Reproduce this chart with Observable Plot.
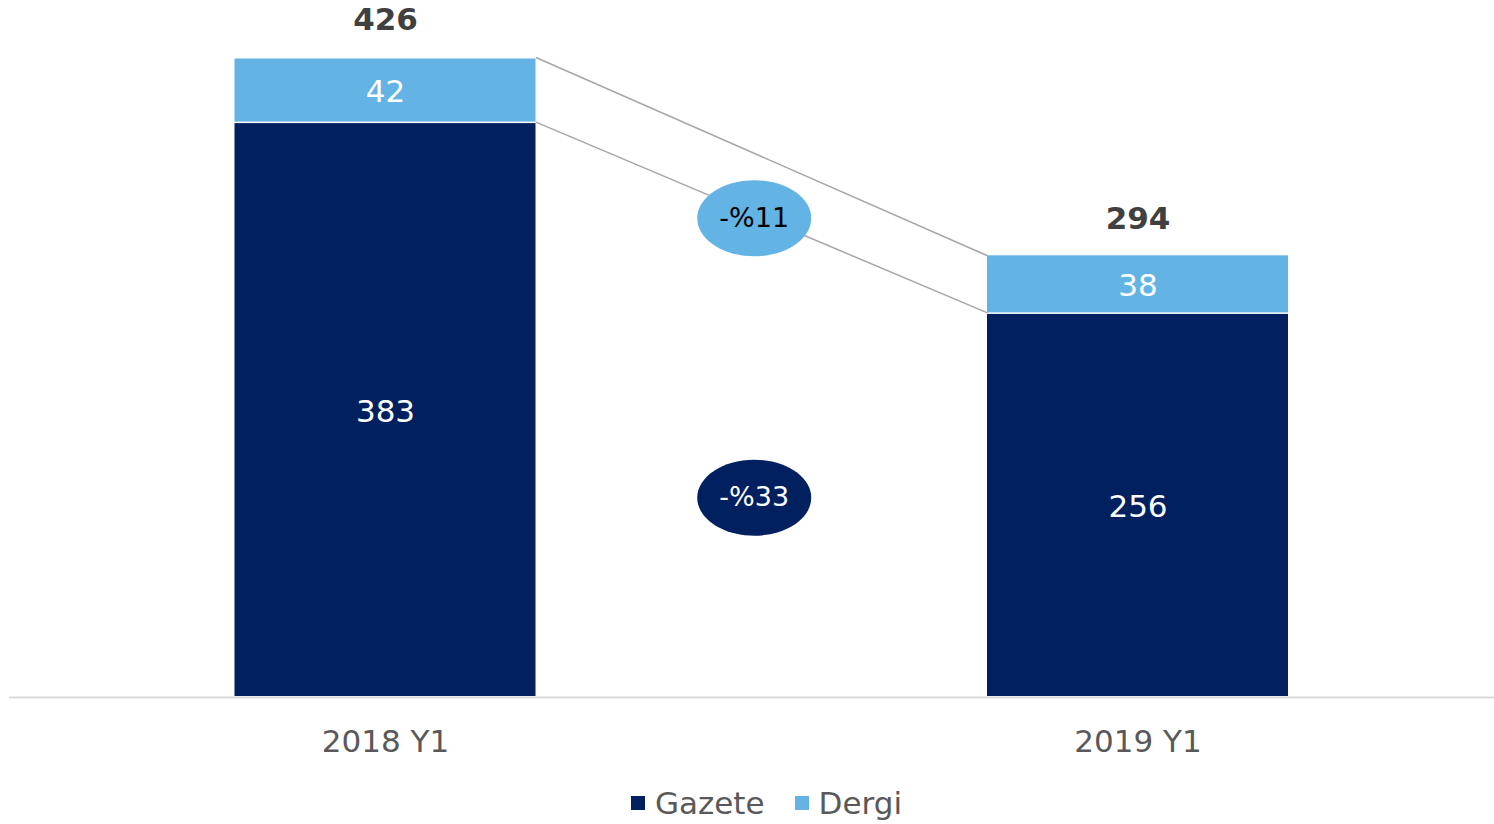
<!DOCTYPE html>
<html>
<head>
<meta charset="utf-8">
<script src="https://cdn.jsdelivr.net/npm/d3@7"></script>
<script src="https://cdn.jsdelivr.net/npm/@observablehq/plot@0.6"></script>
<style>
  html, body { margin: 0; padding: 0; background: #fff; }
  body { width: 1494px; height: 824px; position: relative; overflow: hidden; font-family: "DejaVu Sans", Verdana, sans-serif; }
  #legend { position: absolute; left: 631px; top: 785px; display: flex; align-items: center; font-size: 31px; color: #595959; white-space: nowrap; }
  #legend .sw { display: inline-block; width: 14px; height: 14px; margin-right: 10px; }
  #legend .item { display: flex; align-items: center; margin-right: 30px; }
</style>
</head>
<body>
<div id="chart"></div>
<div id="legend"></div>
<script>
// ---- data ----
const categories = ["2018 Y1", "2019 Y1"];
const seriesNames = ["Gazete", "Dergi"];
const gazete = [383, 256];
const dergi = [42, 38];
const totals = [426, 294];
const changeLabels = ["-%33", "-%11"];         // Gazete, Dergi change
const changeY = [133, 319];                    // annotation vertical placement (value units)
const colors = ["#002060", "#63B4E4"];

// ---- derived table ----
const BAR_HALF = 0.2;
const seriesValues = [gazete, dergi];
const rows = [];
categories.forEach((c, i) => {
  let base = 0;
  seriesNames.forEach((s, k) => {
    const v = seriesValues[k][i];
    rows.push({cat: c, i, series: s, k, value: v, y1: base, y2: base + v});
    base += v;
  });
});
const links = [
  {x1: 0 + BAR_HALF, y1: totals[0], x2: 1 - BAR_HALF, y2: totals[1]},
  {x1: 0 + BAR_HALF, y1: gazete[0], x2: 1 - BAR_HALF, y2: gazete[1]}
];
const bubbles = seriesNames.map((s, k) => ({series: s, k, label: changeLabels[k], x: 0.49, y: changeY[k]}));

const ellipse = {
  draw(ctx, size) {
    const ry = Math.sqrt(size / Math.PI), rx = ry * 1.5, K = 0.5522847498;
    ctx.moveTo(rx, 0);
    ctx.bezierCurveTo(rx, K * ry, K * rx, ry, 0, ry);
    ctx.bezierCurveTo(-K * rx, ry, -rx, K * ry, -rx, 0);
    ctx.bezierCurveTo(-rx, -K * ry, -K * rx, -ry, 0, -ry);
    ctx.bezierCurveTo(K * rx, -ry, rx, -K * ry, rx, 0);
    ctx.closePath();
  }
};

const font = "DejaVu Sans, Verdana, sans-serif";
const plot = Plot.plot({
  width: 1494,
  height: 770,
  marginTop: 57,
  marginBottom: 73,
  marginLeft: 9,
  marginRight: 0,
  style: {fontFamily: font, background: "transparent"},
  x: {domain: [0, 1], range: [385, 1137.5], axis: null},
  y: {domain: [0, 426], axis: null},
  marks: [
    Plot.ruleY([0], {stroke: "#D9D9D9", strokeWidth: 2}),
    Plot.link(links, {x1: "x1", y1: "y1", x2: "x2", y2: "y2", stroke: "#A6A6A6", strokeWidth: 1.5}),
    Plot.rect(rows.filter(d => d.k === 0), {x1: d => d.i - BAR_HALF, x2: d => d.i + BAR_HALF, y1: "y1", y2: "y2", fill: colors[0], insetTop: 1.5, insetBottom: 1}),
    Plot.rect(rows.filter(d => d.k === 1), {x1: d => d.i - BAR_HALF, x2: d => d.i + BAR_HALF, y1: "y1", y2: "y2", fill: colors[1]}),
    Plot.text(rows, {x: "i", y: d => (d.y1 + d.y2) / 2, text: d => String(d.value), fill: "white", fontSize: 31, dy: 2}),
    Plot.text(totals, {x: (d, i) => i, y: d => d, text: d => String(d), dy: -37, fill: "#404040", fontSize: 31, fontWeight: "bold"}),
    Plot.text(categories, {x: (d, i) => i, y: 0, text: d => d, dy: 45, fill: "#595959", fontSize: 31}),
    Plot.dot(bubbles, {x: "x", y: "y", r: 38, symbol: ellipse, fill: d => colors[d.k], stroke: "none"}),
    Plot.text(bubbles, {x: "x", y: "y", text: "label", fill: d => d.k === 0 ? "white" : "black", fontSize: 27})
  ]
});
document.getElementById("chart").appendChild(plot);

const legend = document.getElementById("legend");
seriesNames.forEach((s, k) => {
  const item = document.createElement("span");
  item.className = "item";
  const sw = document.createElement("span");
  sw.className = "sw";
  sw.style.background = colors[k];
  item.appendChild(sw);
  item.appendChild(document.createTextNode(s));
  legend.appendChild(item);
});
</script>
</body>
</html>
